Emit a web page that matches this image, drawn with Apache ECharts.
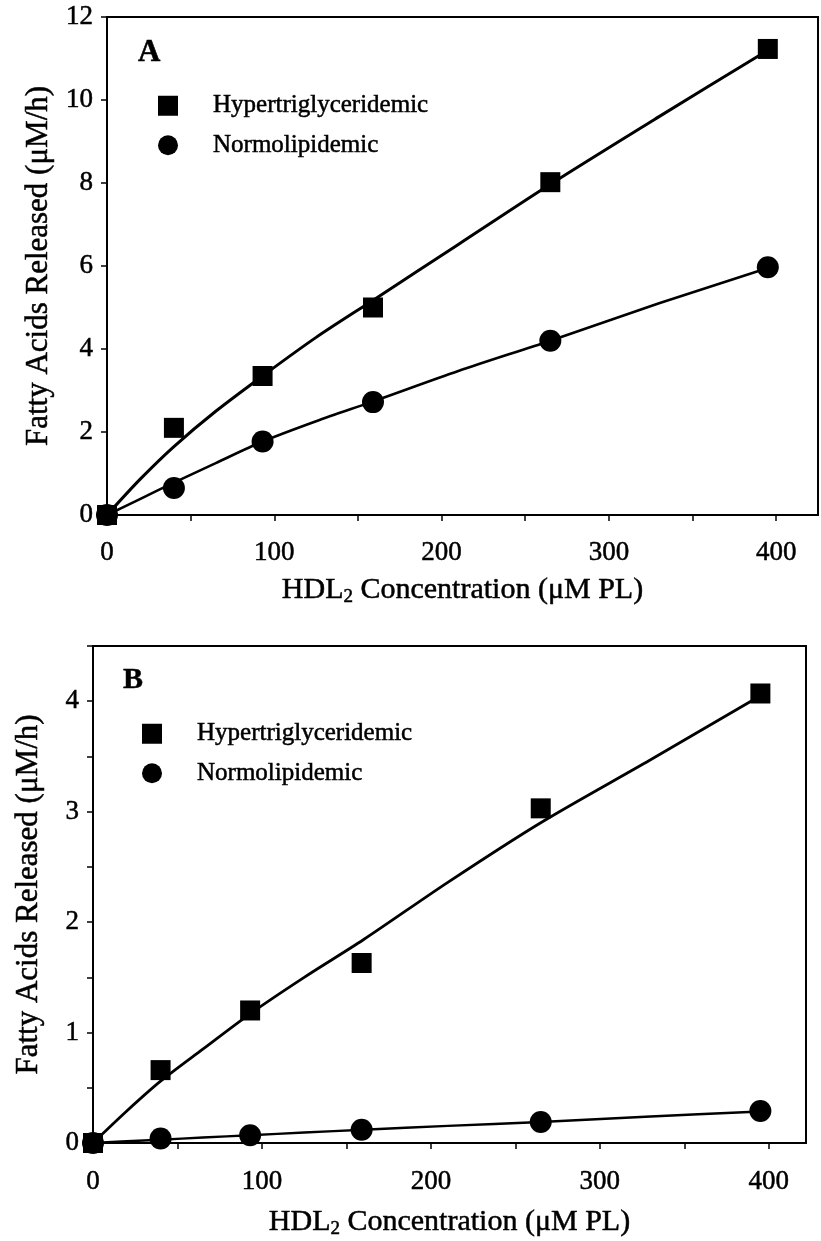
<!DOCTYPE html>
<html>
<head>
<meta charset="utf-8">
<script src="https://cdn.jsdelivr.net/npm/echarts@6/dist/echarts.min.js"></script>
<style>
  html, body { margin: 0; padding: 0; background: #fff; }
  #chart { width: 821px; height: 1241px; }
</style>
</head>
<body>
<div id="chart"></div>
<script>
// HDL2 concentration (µM PL) at which fatty-acid release was measured
const concentration = [0, 40, 93, 159, 265, 395];

// Panel A: fatty acids released (µM/h)
const hyperA = [0, 2.1, 3.35, 5.0, 8.02, 11.23];
const normoA = [0, 0.65, 1.77, 2.72, 4.2, 5.97];

// Panel B: fatty acids released (µM/h)
const hyperB = [0, 0.66, 1.2, 1.63, 3.03, 4.07];
const normoB = [0, 0.04, 0.07, 0.12, 0.19, 0.29];

// Fitted curves, sampled along the concentration range
const fitX = [0, 20, 40, 65, 93, 125, 160, 210, 265, 330, 395];
const fitHyperA = [0, 0.87, 1.65, 2.5, 3.35, 4.28, 5.2, 6.52, 7.97, 9.6, 11.2];
const fitNormoA = [0, 0.39, 0.78, 1.25, 1.77, 2.26, 2.75, 3.47, 4.2, 5.1, 5.95];
const fitHyperB = [0, 0.29, 0.56, 0.85, 1.17, 1.5, 1.84, 2.36, 2.9, 3.47, 4.05];
const fitNormoB = [0, 0.016, 0.03, 0.05, 0.07, 0.095, 0.12, 0.155, 0.19, 0.24, 0.285];

// Axis tick positions and labels
const xTicks = [0, 50, 100, 150, 200, 250, 300, 350, 400];
const xLabels = [0, 100, 200, 300, 400];
const yTicksA = [0, 2, 4, 6, 8, 10, 12];
const yTicksB = [0, 0.5, 1, 1.5, 2, 2.5, 3, 3.5, 4, 4.5];
const yLabelsB = [0, 1, 2, 3, 4];

const seriesNames = ['Hypertriglyceridemic', 'Normolipidemic'];
const panelLetters = ['A', 'B'];
const xTitle = '{n|HDL}{s|2}{n| Concentration (μM PL)}';
const yTitle = 'Fatty Acids Released (μM/h)';

const FONT = '"Liberation Serif", "Times New Roman", serif';
const INK = '#000';
// slight outline so the serif text carries the weight of printed type
const HEAVY = { textBorderColor: INK, textBorderWidth: 0.5 };

const pairs = (xs, ys) => xs.map((x, i) => [x, ys[i]]);

function xAxisFor(gridIndex, max, nameGap, labelMargin) {
  return {
    type: 'value', gridIndex, min: 0, max,
    name: xTitle, nameLocation: 'middle', nameGap,
    nameTextStyle: {
      rich: {
        n: Object.assign({ fontFamily: FONT, fontSize: 30, color: INK }, HEAVY),
        s: Object.assign({ fontFamily: FONT, fontSize: 19, color: INK, padding: [15, 0, 0, 0] }, HEAVY)
      }
    },
    axisLine: { show: true, onZero: false, lineStyle: { color: INK, width: 2 } },
    axisTick: { show: true, inside: false, length: 6, lineStyle: { color: INK, width: 1.5 }, customValues: xTicks },
    axisLabel: Object.assign({ customValues: xLabels, margin: labelMargin, fontFamily: FONT, fontSize: 27, color: INK }, HEAVY),
    splitLine: { show: false }
  };
}

function yAxisFor(gridIndex, max, ticks, labels, nameGap) {
  return {
    type: 'value', gridIndex, min: 0, max,
    name: yTitle, nameLocation: 'middle', nameGap, nameRotate: 90,
    nameTextStyle: Object.assign({ fontFamily: FONT, fontSize: 31, color: INK }, HEAVY),
    axisLine: { show: true, onZero: false, lineStyle: { color: INK, width: 2 } },
    axisTick: { show: true, inside: false, length: 6, lineStyle: { color: INK, width: 1.5 }, customValues: ticks },
    axisLabel: Object.assign({ customValues: labels, margin: 14, fontFamily: FONT, fontSize: 27, color: INK }, HEAVY),
    splitLine: { show: false }
  };
}

function legendFor(left, top) {
  return {
    orient: 'vertical', left, top,
    data: [
      { name: seriesNames[0], icon: 'rect' },
      { name: seriesNames[1], icon: 'circle' }
    ],
    itemWidth: 20, itemHeight: 20, itemGap: 14,
    selectedMode: false,
    textStyle: Object.assign({ fontFamily: FONT, fontSize: 25, color: INK, padding: [0, 0, 0, 30] }, HEAVY)
  };
}

function fitLine(name, xIndex, data, width) {
  return {
    name, type: 'line', xAxisIndex: xIndex, yAxisIndex: xIndex,
    data: pairs(fitX, data), smooth: 0.3, showSymbol: false, symbol: 'none',
    lineStyle: { color: INK, width }, silent: true, z: 2
  };
}

function points(name, xIndex, data, symbol, size) {
  return {
    name, type: 'scatter', xAxisIndex: xIndex, yAxisIndex: xIndex,
    data: pairs(concentration, data), symbol, symbolSize: size,
    itemStyle: { color: INK, opacity: 1 }, clip: false, z: 3
  };
}

const option = {
  backgroundColor: '#fff',
  animation: false,
  title: [
    { text: panelLetters[0], left: 138, top: 37, padding: 0,
      textStyle: Object.assign({ fontFamily: FONT, fontSize: 31, fontWeight: 'bold', color: INK }, HEAVY) },
    { text: panelLetters[1], left: 123, top: 665, padding: 0,
      textStyle: Object.assign({ fontFamily: FONT, fontSize: 30, fontWeight: 'bold', color: INK }, HEAVY) }
  ],
  legend: [legendFor(153, 88), legendFor(137, 716)],
  grid: [
    { left: 107, top: 17, width: 711, height: 498, show: true, borderColor: INK, borderWidth: 2, backgroundColor: 'transparent' },
    { left: 93, top: 646, width: 713, height: 497, show: true, borderColor: INK, borderWidth: 2, backgroundColor: 'transparent' }
  ],
  xAxis: [xAxisFor(0, 425, 58, 24), xAxisFor(1, 422, 62, 25)],
  yAxis: [
    yAxisFor(0, 12, yTicksA, yTicksA, 51),
    yAxisFor(1, 4.5, yTicksB, yLabelsB, 49)
  ],
  series: [
    fitLine('fitNormoA', 0, fitNormoA, 2.6),
    fitLine('fitHyperA', 0, fitHyperA, 3),
    points(seriesNames[1], 0, normoA, 'circle', 22),
    points(seriesNames[0], 0, hyperA, 'rect', 20),
    fitLine('fitNormoB', 1, fitNormoB, 2.4),
    fitLine('fitHyperB', 1, fitHyperB, 2.8),
    points(seriesNames[1], 1, normoB, 'circle', 22),
    points(seriesNames[0], 1, hyperB, 'rect', 20)
  ]
};

const chart = echarts.init(document.getElementById('chart'), null, { renderer: 'canvas' });
chart.setOption(option);
</script>
</body>
</html>
